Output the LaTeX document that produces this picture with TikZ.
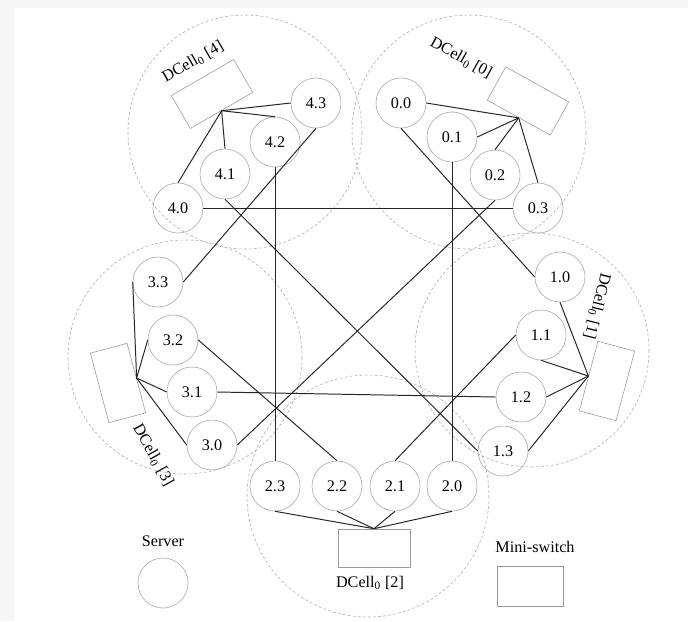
\documentclass[tikz,border=0pt]{standalone}
\usepackage{fontspec}
\setmainfont{Liberation Serif}
\usetikzlibrary{positioning}

\begin{document}
\begin{tikzpicture}[
  x=0.025cm, y=-0.025cm,
  server/.style={draw=gray!70, circle, minimum size=1.25cm, inner sep=0pt,
                 font=\fontsize{11.5}{13}\selectfont},
  switch/.style={draw=gray!80, minimum width=1.8cm, minimum height=0.95cm, inner sep=0pt},
  cell/.style={draw=gray!65, dash pattern=on 2pt off 1.6pt},
  link/.style={draw=black!85, line width=0.7pt},
  lbl/.style={font=\fontsize{11.5}{13}\selectfont, inner sep=1pt}
]
  \fill[gray!7] (0,0) rectangle (688,621);
  \fill[white] (14,8) rectangle (688,621);
  \useasboundingbox (0,0) rectangle (688,621);

  % DCell_0 boundaries
  \draw[cell] (245,132) circle[radius=117];
  \draw[cell] (469,132) circle[radius=117];
  \draw[cell] (185,357) circle[radius=117];
  \draw[cell] (532,350) circle[radius=117];
  \draw[cell] (368,496) circle[radius=121];

  % mini-switches
  \node[switch, rotate=-29] (sw0) at (528,101) {};
  \node[switch, rotate=-105] (sw1) at (607,381) {};
  \node[switch] (sw2) at (374,548) {};
  \node[switch, rotate=105] (sw3) at (118,383) {};
  \node[switch, rotate=30] (sw4) at (212,94) {};

  \node[lbl, rotate=-29] (c0) at (461,58) {DCell\textsubscript{0} [0]};
  \node[lbl, rotate=-104] (c1) at (597,306) {DCell\textsubscript{0} [1]};
  \node[lbl] (c2) at (370,583) {DCell\textsubscript{0} [2]};
  \node[lbl, rotate=-61] (c3) at (153,455) {DCell\textsubscript{0} [3]};
  \node[lbl, rotate=30] (c4) at (193,62) {DCell\textsubscript{0} [4]};

  % servers
  \node[server] (s00) at (401,103) {0.0};
  \node[server] (s01) at (452,137) {0.1};
  \node[server] (s02) at (495,175) {0.2};
  \node[server] (s03) at (538,208) {0.3};

  \node[server] (s10) at (560,277) {1.0};
  \node[server] (s11) at (541,335) {1.1};
  \node[server] (s12) at (521,397) {1.2};
  \node[server] (s13) at (503,451) {1.3};

  \node[server] (s20) at (452,486) {2.0};
  \node[server] (s21) at (395,486) {2.1};
  \node[server] (s22) at (337,486) {2.2};
  \node[server] (s23) at (275,486) {2.3};

  \node[server] (s30) at (212,445) {3.0};
  \node[server] (s31) at (192,392) {3.1};
  \node[server] (s32) at (173,340) {3.2};
  \node[server] (s33) at (158,282) {3.3};

  \node[server] (s40) at (178,208) {4.0};
  \node[server] (s41) at (225,174) {4.1};
  \node[server] (s42) at (275,142) {4.2};
  \node[server] (s43) at (316,103) {4.3};

  % server -- switch
  \draw[link] (s00.east) -- (sw0.south);
  \draw[link] (s01.east) -- (sw0.south);
  \draw[link] (s02.north) -- (sw0.south);
  \draw[link] (s03.north) -- (sw0.south);

  \draw[link] (s10.south) -- (sw1.south);
  \draw[link] (s11.south) -- (sw1.south);
  \draw[link] (s12.east) -- (sw1.south);
  \draw[link] (s13.east) -- (sw1.south);

  \draw[link] (s20.south) -- (sw2.north);
  \draw[link] (s21.south) -- (sw2.north);
  \draw[link] (s22.south) -- (sw2.north);
  \draw[link] (s23.south) -- (sw2.north);

  \draw[link] (s30.west) -- (sw3.south);
  \draw[link] (s31.west) -- (sw3.south);
  \draw[link] (s32.west) -- (sw3.south);
  \draw[link] (s33.west) -- (sw3.south);

  \draw[link] (s40.north) -- (sw4.south);
  \draw[link] (s41.north) -- (sw4.south);
  \draw[link] (s42.north) -- (sw4.south);
  \draw[link] (s43.west) -- (sw4.south);

  % level-1 links
  \draw[link] (s00.south) -- (s10.west);
  \draw[link] (s01.south) -- (s20.north);
  \draw[link] (s02.south) -- (s30.east);
  \draw[link] (s03.west) -- (s40.east);
  \draw[link] (s11.west) -- (s21.north);
  \draw[link] (s12.west) -- (s31.east);
  \draw[link] (s13.west) -- (s41.south);
  \draw[link] (s22.north) -- (s32.east);
  \draw[link] (s23.north) -- (s42.south);
  \draw[link] (s33.east) -- (s43.south);

  % legend
  \node[lbl] (legsrvtxt) at (163,541) {Server};
  \node[server] (legsrv) at (163,583) {};
  \node[lbl] (legswtxt) at (535,547) {Mini-switch};
  \node[switch, minimum width=1.65cm, minimum height=1cm] (legsw) at (530,586) {};
\end{tikzpicture}
\end{document}
